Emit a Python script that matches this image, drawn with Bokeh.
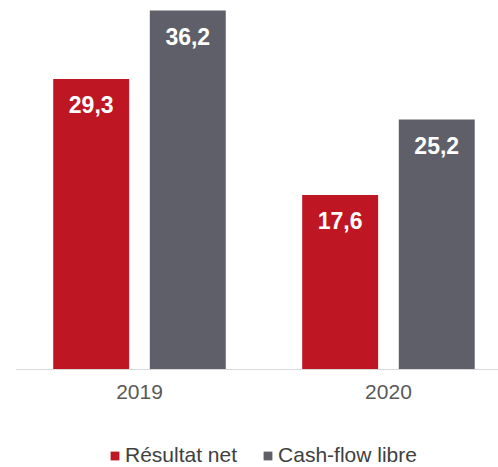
from bokeh.plotting import figure
from bokeh.models import (ColumnDataSource, Range1d, FixedTicker, Legend, LegendItem,
                          LabelSet, LinearAxis)
from bokeh.core.properties import value
from bokeh.transform import dodge
from bokeh.embed import file_html
from bokeh.resources import INLINE

years = ["2019", "2020"]
resultat_net = [29.3, 17.6]
cash_flow_libre = [36.2, 25.2]
series_names = ["Résultat net", "Cash-flow libre"]

RED = "#BE1622"
GREY = "#5F5F69"

xs = list(range(len(years)))
src = ColumnDataSource(dict(
    x=xs,
    rn=resultat_net,
    cf=cash_flow_libre,
    rn_lbl=[f"{v:.1f}".replace(".", ",") for v in resultat_net],
    cf_lbl=[f"{v:.1f}".replace(".", ",") for v in cash_flow_libre],
))

p = figure(width=498, height=467, output_backend="svg", toolbar_location=None,
           x_range=Range1d(-0.498, 1.442), y_range=Range1d(-9.88, 37.21),
           x_axis_location=None, y_axis_location=None,
           min_border_left=15, min_border_right=0, min_border_top=0, min_border_bottom=0)

off = 0.194
w = 0.305
r1 = p.vbar(x=dodge("x", -off, range=p.x_range), top="rn", width=w, source=src,
            fill_color=RED, line_color=None)
r2 = p.vbar(x=dodge("x", off, range=p.x_range), top="cf", width=w, source=src,
            fill_color=GREY, line_color=None)

for col, lbl, o in (("rn", "rn_lbl", -off), ("cf", "cf_lbl", off)):
    ls = LabelSet(x=dodge("x", o, range=p.x_range), y=col, text=lbl, source=src,
                  y_offset=-26, text_align="center", text_baseline="middle",
                  text_color="white", text_font=value("Liberation Sans"),
                  text_font_style="bold", text_font_size="23px")
    p.add_layout(ls)

p.xgrid.visible = False
p.ygrid.visible = False
p.outline_line_color = None

ax = LinearAxis(fixed_location=0)
ax.ticker = FixedTicker(ticks=xs)
ax.major_label_overrides = {i: y for i, y in zip(xs, years)}
ax.major_tick_line_color = None
ax.minor_tick_line_color = None
ax.axis_line_color = "#D9D9D9"
ax.axis_line_width = 1
ax.major_label_text_font = "Liberation Sans"
ax.major_label_text_font_size = "21px"
ax.major_label_text_color = "#595959"
ax.major_label_standoff = 9
p.add_layout(ax, "below")

legend = Legend(items=[LegendItem(label=series_names[0], renderers=[r1]),
                       LegendItem(label=series_names[1], renderers=[r2])],
                orientation="horizontal", location=(94, 0),
                glyph_width=11, glyph_height=11, label_standoff=5, spacing=25,
                label_text_font="Liberation Sans", label_text_font_size="21px",
                label_text_color="#404040", border_line_color=None,
                background_fill_alpha=0, padding=0, margin=0)
p.add_layout(legend, "center")

open("out.html", "w").write(file_html(p, INLINE))
